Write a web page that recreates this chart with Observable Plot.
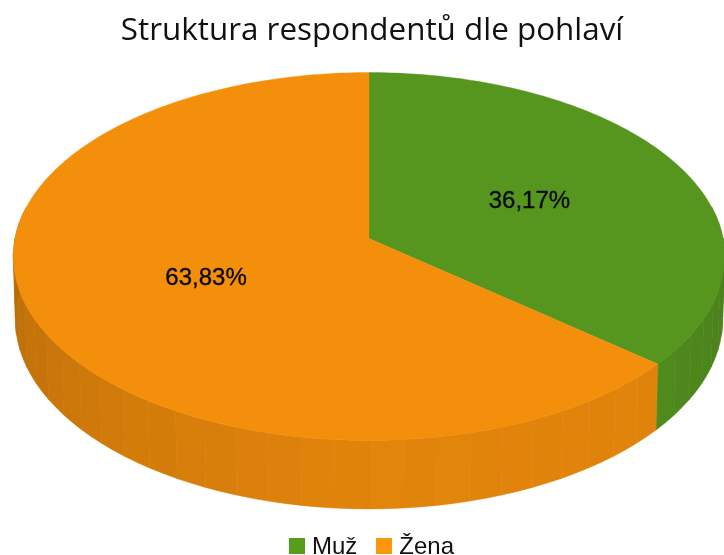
<!DOCTYPE html>
<html lang="cs">
<head>
<meta charset="utf-8">
<script src="https://cdn.jsdelivr.net/npm/d3@7"></script>
<script src="https://cdn.jsdelivr.net/npm/@observablehq/plot@0.6"></script>
<style>
html,body{margin:0;padding:0;background:#fff;width:724px;height:555px;overflow:hidden}
#wrap{position:relative;width:724px;height:555px;overflow:hidden;filter:blur(0.5px)}
#title{position:absolute;left:0;top:8px;width:724px;text-align:center;font:31.4px/40px "Open Sans",sans-serif;color:#111;white-space:nowrap;margin-left:10px}
#chart{position:absolute;left:0;top:60px}
#legend{position:absolute;left:289px;top:533px;height:25px;display:flex;align-items:center;font:24px/25px "Liberation Sans",sans-serif;color:#111}
#legend i{display:inline-block;width:16px;height:16px;margin-right:7px}
#legend span{margin-right:19px}
</style>
</head>
<body>
<div id="wrap">
  <div id="title">Struktura respondentů dle pohlaví</div>
  <div id="chart"></div>
  <div id="legend"></div>
</div>
<script>
const categories = ["Muž", "Žena"];
const shares = [36.17, 63.83];
const shareLabels = ["36,17%", "63,83%"];
const labelRadius = [0.51, 0.497];
const topColors = ["#56961f", "#f48f0c"];
const legendColors = ["#579d1c", "#ff950e"];

// perspective disc: angle in degrees clockwise from the back of the pie
const TOP = {cx: 368.5, cy: 238, R: 354, S: 182.2, k: 0.0978};
const RIM = {cx: 368.5, cy: 300, R: 352, S: 188, k: 0.0978};
function project(disc, deg, r = 1) {
  const t = deg * Math.PI / 180;
  const u = r * Math.sin(t), v = -r * Math.cos(t), d = 1 - disc.k * v;
  return {x: disc.cx + disc.R * u / d, y: disc.cy + disc.S * v / d};
}
const shade = d3.scaleLinear().domain([80, 130, 180, 225, 280]).range([0.83, 0.92, 0.925, 0.85, 0.74]);

let start = 0;
const slices = categories.map((name, i) => {
  const a = start, b = start + shares[i] * 3.6;
  start = b;
  return {name, a, b, color: topColors[i], label: shareLabels[i], mid: (a + b) / 2, labelR: labelRadius[i]};
});

const sideRows = [], topRows = [];
let facetId = 0;
for (const s of slices) {
  // side wall, 5 degree facets, only the part facing the viewer
  const lo = Math.max(s.a, 80), hi = Math.min(s.b, 280);
  const stops = [lo];
  for (let t = Math.ceil(lo / 5 + 1e-6) * 5; t < hi; t += 5) stops.push(t);
  stops.push(hi);
  for (let j = 0; j + 1 < stops.length; j++) {
    const m = (stops[j] + stops[j + 1]) / 2;
    const f = shade(m) + (j % 2 ? 0.003 : -0.003);
    const c = d3.rgb(s.color);
    const fill = d3.rgb(c.r * f, c.g * f, c.b * f).formatHex();
    const id = "f" + facetId++;
    const ring = [project(TOP, stops[j]), project(TOP, stops[j + 1]), project(RIM, stops[j + 1]), project(RIM, stops[j])];
    // arcs over a 5 degree facet need a bulge for the rim outline
    const mt = project(TOP, m), mr = project(RIM, m);
    const pts = [ring[0], mt, ring[1], ring[2], mr, ring[3], ring[0]];
    for (const p of pts) sideRows.push({...p, id, fill});
  }
  // top face
  const pts = [project(TOP, 0, 0)];
  const n = Math.ceil(s.b - s.a);
  for (let j = 0; j <= n; j++) pts.push(project(TOP, s.a + (s.b - s.a) * j / n));
  pts.push(project(TOP, 0, 0));
  for (const p of pts) topRows.push({...p, id: s.name, fill: s.color});
}

const labelRows = slices.map(s => ({...project(TOP, s.mid, s.labelR), label: s.label}));

const plot = Plot.plot({
  width: 724,
  height: 465,
  margin: 0,
  x: {domain: [0, 724], range: [0, 724], axis: null},
  y: {domain: [60, 525], range: [0, 465], axis: null},
  color: {type: "identity"},
  style: {background: "transparent"},
  marks: [
    Plot.line(sideRows, {x: "x", y: "y", z: "id", fill: "fill", stroke: "fill", strokeWidth: 0.6}),
    Plot.line(topRows, {x: "x", y: "y", z: "id", fill: "fill", stroke: "fill", strokeWidth: 0.4}),
    Plot.text(labelRows, {x: "x", y: "y", text: "label", fill: "#0a0a0a", stroke: "#0a0a0a", strokeWidth: 0.35, fontSize: 24, fontFamily: "Liberation Sans", style: {letterSpacing: "-1.2px"}})
  ]
});
document.getElementById("chart").appendChild(plot);

const legend = document.getElementById("legend");
categories.forEach((name, i) => {
  const sw = document.createElement("i");
  sw.style.background = legendColors[i];
  const tx = document.createElement("span");
  tx.textContent = name;
  legend.append(sw, tx);
});
</script>
</body>
</html>
